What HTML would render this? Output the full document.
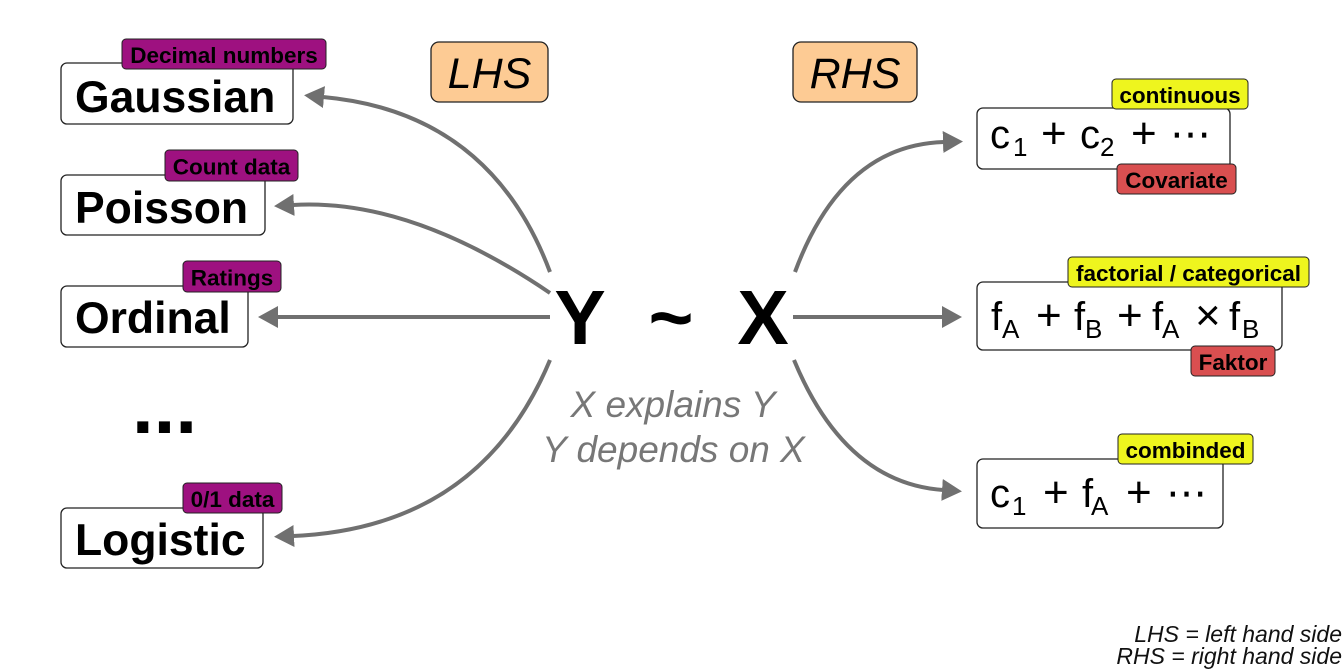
<!DOCTYPE html>
<html>
<head>
<meta charset="utf-8">
<style>
  html, body { margin: 0; padding: 0; background: #ffffff; }
  body { width: 1344px; height: 672px; overflow: hidden; }
  svg { display: block; }
  text { font-family: "Liberation Sans", Arial, sans-serif; }
</style>
</head>
<body>
<svg width="1344" height="672" viewBox="0 0 1344 672" xmlns="http://www.w3.org/2000/svg">
  <defs>
    <marker id="ah" markerUnits="userSpaceOnUse" markerWidth="24" markerHeight="24" refX="1" refY="11" orient="auto">
      <path d="M0,0 L20,11 L0,22 Z" fill="#707070"/>
    </marker>
  </defs>
  <rect x="0" y="0" width="1344" height="672" fill="#ffffff"/>

  <!-- Arrows left -->
  <g fill="none" stroke="#707070" stroke-width="4">
    <path d="M550,272 Q490,112 323,97" marker-end="url(#ah)"/>
    <path d="M550,293 Q410,198 293,205" marker-end="url(#ah)"/>
    <path d="M550,317 L277,317" marker-end="url(#ah)"/>
    <path d="M550,360 Q480,528 293,536" marker-end="url(#ah)"/>
    <!-- right -->
    <path d="M795,272 Q842,145 944,142" marker-end="url(#ah)"/>
    <path d="M793,317 L943,317" marker-end="url(#ah)"/>
    <path d="M794,360 Q845,483 943,490" marker-end="url(#ah)"/>
  </g>

  <!-- LHS / RHS labels -->
  <rect x="431" y="42" width="117" height="60" rx="8" fill="#FDCB94" stroke="#222" stroke-width="1.3"/>
  <text x="489.5" y="88" font-size="43" font-style="italic" text-anchor="middle" fill="#000">LHS</text>
  <rect x="793" y="42" width="124" height="60" rx="8" fill="#FDCB94" stroke="#222" stroke-width="1.3"/>
  <text x="855" y="88" font-size="43" font-style="italic" text-anchor="middle" fill="#000">RHS</text>

  <!-- Left boxes -->
  <g fill="#ffffff" stroke="#222" stroke-width="1.3">
    <rect x="61" y="63" width="232" height="61" rx="6"/>
    <rect x="61" y="175" width="204" height="60" rx="6"/>
    <rect x="61" y="286" width="187" height="61" rx="6"/>
    <rect x="61" y="508" width="202" height="60" rx="6"/>
  </g>
  <g font-size="44.5" font-weight="bold" fill="#000">
    <text x="75" y="112">Gaussian</text>
    <text x="75" y="223">Poisson</text>
    <text x="75" y="333">Ordinal</text>
    <text x="75" y="555">Logistic</text>
  </g>
  <text x="132" y="433" font-size="78" font-weight="bold" fill="#000">...</text>

  <!-- Left tags -->
  <g fill="#9E1180" stroke="#222" stroke-width="1">
    <rect x="122" y="39" width="204" height="30" rx="4"/>
    <rect x="165" y="150" width="133" height="31" rx="4"/>
    <rect x="183" y="261" width="98" height="31" rx="4"/>
    <rect x="183" y="483" width="99" height="30" rx="4"/>
  </g>
  <g font-size="22.5" font-weight="bold" fill="#000" text-anchor="middle">
    <text x="224" y="63">Decimal numbers</text>
    <text x="231.5" y="174.5">Count data</text>
    <text x="232" y="285.5">Ratings</text>
    <text x="232.5" y="507">0/1 data</text>
  </g>

  <!-- Center formula -->
  <g font-size="77" font-weight="bold" fill="#000" text-anchor="middle">
    <text x="580" y="344">Y</text>
    <text x="671" y="344">~</text>
    <text x="763" y="344">X</text>
  </g>
  <g font-size="37" font-style="italic" fill="#777777" text-anchor="middle">
    <text x="673" y="417">X explains Y</text>
    <text x="673.5" y="462">Y depends on X</text>
  </g>

  <!-- Right boxes -->
  <g fill="#ffffff" stroke="#222" stroke-width="1.3">
    <rect x="977" y="108" width="253" height="61" rx="6"/>
    <rect x="977" y="282" width="305" height="68" rx="6"/>
    <rect x="977" y="459" width="246" height="69" rx="6"/>
  </g>

  <!-- Box 1 formula -->
  <text font-size="40" fill="#000">
    <tspan x="990" y="148">c</tspan><tspan x="1013" y="156" font-size="26">1</tspan><tspan x="1041" y="148" font-size="44">+</tspan><tspan x="1080" y="148">c</tspan><tspan x="1100" y="156" font-size="26">2</tspan><tspan x="1131" y="148" font-size="44">+</tspan>
  </text>
  <text x="1170" y="148" font-size="41" fill="#000" style="font-family:'DejaVu Sans', sans-serif;">⋯</text>

  <!-- Box 2 formula -->
  <text font-size="40" fill="#000">
    <tspan x="991" y="330">f</tspan><tspan x="1002" y="338" font-size="26">A</tspan><tspan x="1036" y="330" font-size="44">+</tspan><tspan x="1074" y="330">f</tspan><tspan x="1085" y="338" font-size="26">B</tspan><tspan x="1117" y="330" font-size="44">+</tspan><tspan x="1152" y="330">f</tspan><tspan x="1162" y="338" font-size="26">A</tspan><tspan x="1195" y="330" font-size="44">×</tspan><tspan x="1229" y="330">f</tspan><tspan x="1242" y="338" font-size="26">B</tspan>
  </text>

  <!-- Box 3 formula -->
  <text font-size="40" fill="#000">
    <tspan x="990" y="507">c</tspan><tspan x="1012" y="515" font-size="26">1</tspan><tspan x="1043" y="507" font-size="44">+</tspan><tspan x="1082" y="507">f</tspan><tspan x="1091" y="515" font-size="26">A</tspan><tspan x="1126" y="507" font-size="44">+</tspan>
  </text>
  <text x="1166" y="507" font-size="41" fill="#000" style="font-family:'DejaVu Sans', sans-serif;">⋯</text>

  <!-- Right tags -->
  <g stroke="#222" stroke-width="1">
    <rect x="1112" y="79" width="136" height="30" rx="4" fill="#EEF51E"/>
    <rect x="1117" y="164" width="119" height="30" rx="4" fill="#D94F50"/>
    <rect x="1068" y="257" width="241" height="30" rx="4" fill="#EEF51E"/>
    <rect x="1191" y="346" width="84" height="30" rx="4" fill="#D94F50"/>
    <rect x="1118" y="434" width="135" height="30" rx="4" fill="#EEF51E"/>
  </g>
  <g font-size="22.5" font-weight="bold" fill="#000" text-anchor="middle">
    <text x="1180" y="103">continuous</text>
    <text x="1176.5" y="188">Covariate</text>
    <text x="1188.5" y="281">factorial / categorical</text>
    <text x="1233" y="370">Faktor</text>
    <text x="1185.5" y="458">combinded</text>
  </g>

  <!-- Footnote -->
  <g font-size="23" font-style="italic" fill="#111" text-anchor="end">
    <text x="1342" y="642">LHS = left hand side</text>
    <text x="1342" y="664">RHS = right hand side</text>
  </g>
</svg>
</body>
</html>
